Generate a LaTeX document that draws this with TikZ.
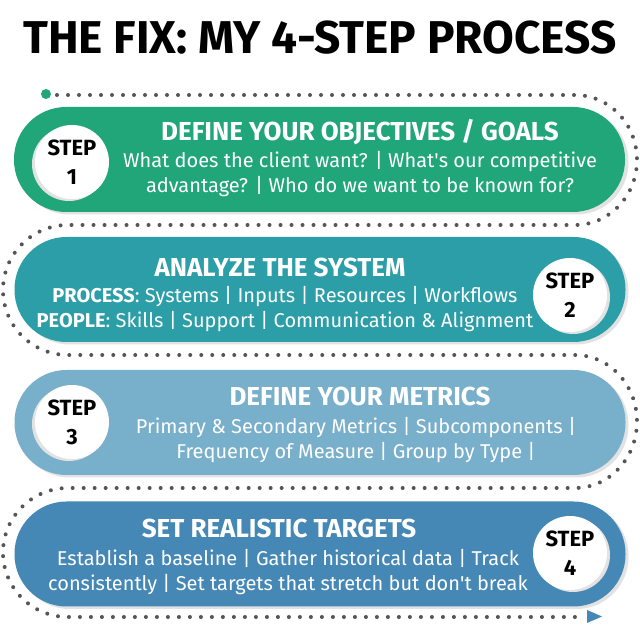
\documentclass[tikz,border=0pt]{standalone}
\usepackage{fontspec}
\setmainfont{Fira Sans}
\definecolor{stepgreen}{HTML}{21A67A}
\definecolor{stepteal}{HTML}{2B9EA7}
\definecolor{steplight}{HTML}{78AFCB}
\definecolor{stepblue}{HTML}{4587B5}
\definecolor{shadowgray}{HTML}{E2E2E2}
\definecolor{dotgray}{HTML}{555555}
\begin{document}
\begin{tikzpicture}[
    x=1pt, y=1pt,
    card/.style={rounded corners=52pt, minimum width=611pt, minimum height=105pt, inner sep=0pt},
    cardshadow/.style={card, fill=shadowgray},
    badge/.style={circle, fill=white, minimum size=74pt, inner sep=0pt, align=center, text=black,
        font=\fontsize{22}{29}\selectfont\bfseries},
    badgeshadow/.style={circle, fill=shadowgray, minimum size=74pt, inner sep=0pt},
    heading/.style={text=white, inner sep=0pt, font=\fontsize{26}{30}\selectfont\bfseries},
    detail/.style={text=white, align=center, inner sep=0pt, font=\fontsize{20}{25}\selectfont},
    trail/.style={draw=dotgray, line width=4pt, line cap=round, dash pattern=on 0pt off 11pt}
]
\useasboundingbox (0,0) rectangle (640,626);

% Tytul
\node[font=\fontsize{46}{52}\selectfont\bfseries] (title) at (320,588) {THE FIX: MY 4-STEP PROCESS};

% Kropkowana sciezka
\draw[trail] (46,531) -- (575,531)
    arc[start angle=90, end angle=-90, x radius=62, y radius=65] -- (68,401)
    arc[start angle=90, end angle=270, x radius=65, y radius=65] -- (575,271)
    arc[start angle=90, end angle=-90, x radius=62, y radius=66.5] -- (68,138)
    arc[start angle=90, end angle=270, x radius=65, y radius=64.5] -- (576,9);
\fill[stepgreen] (46,532) circle (5);
\fill[stepblue] (587,16) -- (602,9.5) -- (587,3) -- cycle;

% Cienie kart
\node[cardshadow] (s1) at (323,464) {};
\node[cardshadow] (s2) at (323,334) {};
\node[cardshadow] (s3) at (323,201) {};
\node[cardshadow] (s4) at (323,69.5) {};

% Karty krokow
\node[card, fill=stepgreen] (card1) at (319.5,466.5) {};
\node[card, fill=stepteal] (card2) at (320,336.5) {};
\node[card, fill=steplight] (card3) at (320,203.5) {};
\node[card, fill=stepblue] (card4) at (320,72) {};

% Kola z numerami krokow
\node[badgeshadow] (b1s) at (69,462) {};
\node[badge] (b1) at (72,464) {STEP\\1};
\node[badgeshadow] (b2s) at (573,329) {};
\node[badge] (b2) at (570,331) {STEP\\2};
\node[badgeshadow] (b3s) at (69,202) {};
\node[badge] (b3) at (72,204) {STEP\\3};
\node[badgeshadow] (b4s) at (573,71) {};
\node[badge] (b4) at (570,73) {STEP\\4};

% Naglowki
\node[heading] (h1) at (360,494) {DEFINE YOUR OBJECTIVES / GOALS};
\node[heading] (h2) at (280,359) {ANALYZE THE SYSTEM};
\node[heading] (h3) at (360,230) {DEFINE YOUR METRICS};
\node[heading] (h4) at (279,98) {SET REALISTIC TARGETS};

% Opisy
\node[detail] (d1) at (360,452) {What does the client want? | What\textquotesingle s our competitive\\advantage? | Who do we want to be known for?};
\node[detail] (d2) at (285,317) {\textbf{PROCESS}: Systems | Inputs | Resources | Workflows\\\textbf{PEOPLE}: Skills | Support | Communication \& Alignment};
\node[detail] (d3) at (356,186) {Primary \& Secondary Metrics | Subcomponents |\\Frequency of Measure | Group by Type |};
\node[detail] (d4) at (288,54) {Establish a baseline | Gather historical data | Track\\consistently | Set targets that stretch but don\textquotesingle t break};

\end{tikzpicture}
\end{document}
